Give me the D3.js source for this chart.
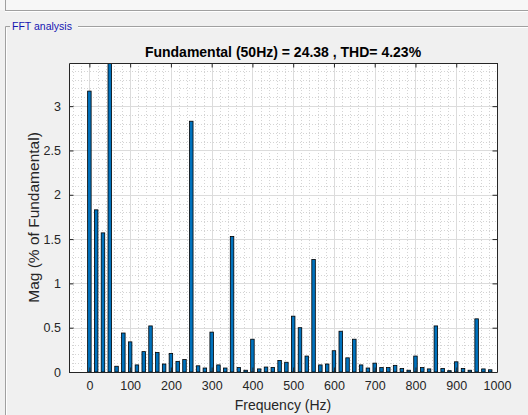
<!DOCTYPE html>
<html>
<head>
<meta charset="utf-8">
<script src="https://cdn.jsdelivr.net/npm/d3@7"></script>
<style>
  body { margin: 0; background: #f0f0f0; }
  svg { display: block; font-family: "Liberation Sans", Arial, Helvetica, sans-serif; }
</style>
</head>
<body>
<svg id="chart" width="528" height="415"></svg>
<script>
// FFT bins, resolution 50/3 Hz (bin 3 = fundamental, 100%)
const binHz = 50 / 3;
const mags = [
  3.17, 1.83, 1.57, 100, 0.065, 0.44, 0.34, 0.08, 0.23, 0.52,
  0.22, 0.09, 0.21, 0.12, 0.14, 2.83, 0.07, 0.045, 0.45, 0.08,
  0.045, 1.53, 0.05, 0.02, 0.37, 0.035, 0.056, 0.052, 0.13, 0.11,
  0.63, 0.50, 0.18, 1.27, 0.08, 0.09, 0.24, 0.46, 0.16, 0.37,
  0.08, 0.045, 0.10, 0.05, 0.05, 0.075, 0.04, 0.02, 0.18, 0.05,
  0.035, 0.52, 0.04, 0.015, 0.115, 0.04, 0.02, 0.60, 0.035, 0.025
];
const xTicks = [0, 100, 200, 300, 400, 500, 600, 700, 800, 900, 1000];
const yTicks = [0, 0.5, 1, 1.5, 2, 2.5, 3];
const titleText = "Fundamental (50Hz) = 24.38 , THD= 4.23%";

const svg = d3.select("#chart");
const margin = {left: 69, top: 63, right: 497, bottom: 372};

// window decorations
svg.append("rect").attr("width", 528).attr("height", 415).attr("fill", "#f0f0f0");
svg.append("rect").attr("width", 528).attr("height", 10).attr("fill", "#f7f7f7");
svg.append("line").attr("x1", 5).attr("x2", 528).attr("y1", 10.5).attr("y2", 10.5).attr("stroke", "#a0a0a0");
svg.append("line").attr("x1", 5).attr("x2", 528).attr("y1", 11.5).attr("y2", 11.5).attr("stroke", "#ffffff");
svg.append("line").attr("x1", 5.5).attr("x2", 5.5).attr("y1", 0).attr("y2", 10).attr("stroke", "#a0a0a0");

// panel border
svg.append("path").attr("d", "M10,26.5 H5.5 V415").attr("fill", "none").attr("stroke", "#a0a0a0");
svg.append("path").attr("d", "M78,26.5 H528").attr("fill", "none").attr("stroke", "#a0a0a0");
svg.append("path").attr("d", "M78,27.5 H528 M6.5,27.5 V415").attr("fill", "none").attr("stroke", "#ffffff");
svg.append("text").attr("x", 12).attr("y", 30).attr("font-size", 10.5).attr("fill", "#1515b0").text("FFT analysis");

const x = d3.scaleLinear().domain([-50, 1000]).range([margin.left, margin.right]);
const y = d3.scaleLinear().domain([0, 3.487]).range([margin.bottom, margin.top]);

// axes background
svg.append("rect")
  .attr("x", margin.left).attr("y", margin.top)
  .attr("width", margin.right - margin.left).attr("height", margin.bottom - margin.top)
  .attr("fill", "#ffffff");

// minor grid
const xMinor = d3.range(-40, 1000, 20).filter(v => v % 100 !== 0);
const yMinor = d3.range(0.1, 3.487, 0.1).filter(v => Math.abs(v * 2 - Math.round(v * 2)) > 0.01);
svg.append("g").selectAll("line").data(xMinor).join("line")
  .attr("x1", d => Math.round(x(d)) + 0.5).attr("x2", d => Math.round(x(d)) + 0.5)
  .attr("y1", margin.top).attr("y2", margin.bottom)
  .attr("stroke", "#d4d4d4").attr("stroke-dasharray", "1,2");
svg.append("g").selectAll("line").data(yMinor).join("line")
  .attr("y1", d => Math.round(y(d)) + 0.5).attr("y2", d => Math.round(y(d)) + 0.5)
  .attr("x1", margin.left).attr("x2", margin.right)
  .attr("stroke", "#d4d4d4").attr("stroke-dasharray", "1,2");

// major grid
svg.append("g").selectAll("line").data(xTicks.slice(0, -1)).join("line")
  .attr("x1", d => Math.round(x(d)) + 0.5).attr("x2", d => Math.round(x(d)) + 0.5)
  .attr("y1", margin.top).attr("y2", margin.bottom)
  .attr("stroke", "#dcdcdc");
svg.append("g").selectAll("line").data(yTicks.slice(1)).join("line")
  .attr("y1", d => Math.round(y(d)) + 0.5).attr("y2", d => Math.round(y(d)) + 0.5)
  .attr("x1", margin.left).attr("x2", margin.right)
  .attr("stroke", "#dcdcdc");

// bars
svg.append("clipPath").attr("id", "clip").append("rect")
  .attr("x", margin.left).attr("y", margin.top)
  .attr("width", margin.right - margin.left).attr("height", margin.bottom - margin.top);
const barW = x(8.6) - x(0);
svg.append("g").attr("clip-path", "url(#clip)")
  .selectAll("rect").data(mags).join("rect")
  .attr("x", (d, i) => x(i * binHz) - barW / 2)
  .attr("y", d => y(d))
  .attr("width", barW)
  .attr("height", d => y(0) - y(d))
  .attr("fill", "#0072bd")
  .attr("stroke", "#000000")
  .attr("stroke-width", 0.8);

// axes box and ticks
const ink = "#262626";
const tl = 4.5;
const xAxis = d3.axisBottom(x).tickValues(xTicks).tickSizeInner(-tl).tickSizeOuter(0).tickPadding(9)
  .tickFormat(d3.format("d"));
const gx = svg.append("g").attr("transform", `translate(0,${margin.bottom})`).call(xAxis);
const xAxisTop = d3.axisTop(x).tickValues(xTicks).tickSizeInner(-tl).tickSizeOuter(0).tickFormat("");
const gxt = svg.append("g").attr("transform", `translate(0,${margin.top})`).call(xAxisTop);
const yAxis = d3.axisLeft(y).tickValues(yTicks).tickSizeInner(-tl).tickSizeOuter(0).tickPadding(8)
  .tickFormat(d => d3.format("~g")(d));
const gy = svg.append("g").attr("transform", `translate(${margin.left},0)`).call(yAxis);
const yAxisRight = d3.axisRight(y).tickValues(yTicks).tickSizeInner(-tl).tickSizeOuter(0).tickFormat("");
const gyr = svg.append("g").attr("transform", `translate(${margin.right},0)`).call(yAxisRight);

[gx, gxt, gy, gyr].forEach(g => {
  g.selectAll(".domain").attr("stroke", ink);
  g.selectAll(".tick line").attr("stroke", ink);
  g.selectAll(".tick text").attr("fill", ink).attr("font-size", 12.5);
});

// title and labels
svg.append("text")
  .attr("x", (margin.left + margin.right) / 2).attr("y", 57)
  .attr("text-anchor", "middle").attr("font-size", 14).attr("font-weight", "bold")
  .attr("fill", "#000").text(titleText);
svg.append("text")
  .attr("x", (margin.left + margin.right) / 2).attr("y", 410)
  .attr("text-anchor", "middle").attr("font-size", 14).attr("fill", ink)
  .text("Frequency (Hz)");
svg.append("text")
  .attr("transform", `translate(39,${(margin.top + margin.bottom) / 2}) rotate(-90)`)
  .attr("text-anchor", "middle").attr("font-size", 15.5).attr("fill", ink)
  .text("Mag (% of Fundamental)");
</script>
</body>
</html>
